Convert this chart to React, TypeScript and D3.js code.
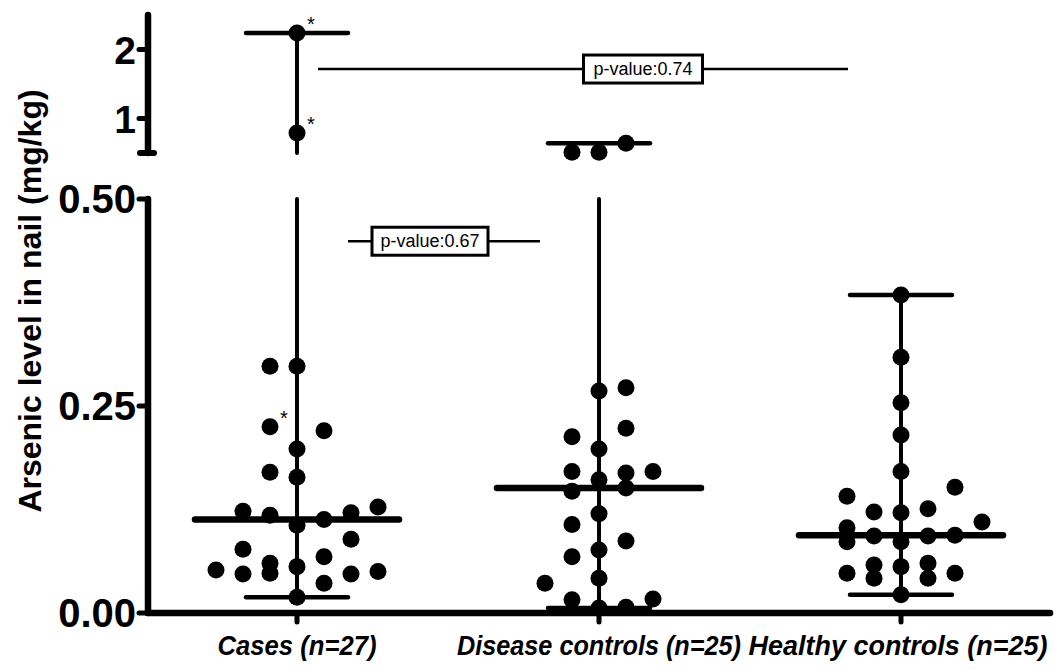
import React from "react";
import * as d3 from "d3";

const categories = ["Cases (n=27)", "Disease controls (n=25)", "Healthy controls (n=25)"];

const casesValues = [2.24, 0.79, 0.298, 0.298, 0.225, 0.22, 0.198, 0.17, 0.164, 0.123, 0.118, 0.106, 0.113, 0.121, 0.128, 0.077, 0.089, 0.068, 0.052, 0.047, 0.06, 0.048, 0.056, 0.036, 0.047, 0.05, 0.019];
const casesSlots = [0, 0, -1, 0, -1, 1, 0, -1, 0, -2, -1, 0, 1, 2, 3, -2, 2, 1, -3, -2, -1, -1, 0, 1, 2, 3, 0];

const diseaseValues = [0.64, 0.51, 0.51, 0.268, 0.272, 0.223, 0.213, 0.198, 0.171, 0.161, 0.169, 0.171, 0.147, 0.151, 0.12, 0.107, 0.087, 0.076, 0.068, 0.042, 0.036, 0.016, 0.017, 0.006, 0.007];
const diseaseSlots = [1, -1, 0, 0, 1, 1, -1, 0, -1, 0, 1, 2, -1, 1, 0, -1, 1, 0, -1, 0, -2, -1, 2, 0, 1];

const healthyValues = [0.384, 0.309, 0.254, 0.215, 0.171, 0.152, 0.141, 0.122, 0.121, 0.126, 0.11, 0.103, 0.086, 0.093, 0.086, 0.093, 0.094, 0.048, 0.058, 0.042, 0.056, 0.06, 0.042, 0.048, 0.022];
const healthySlots = [0, 0, 0, 0, 0, 2, -2, -1, 0, 1, 3, -2, -2, -1, 0, 1, 2, -2, -1, -1, 0, 1, 1, 2, 0];

const lowerTicks = [0, 0.25, 0.5];
const lowerTickLabels = ["0.00", "0.25", "0.50"];
const upperTicks = [1, 2];
const upperTickLabels = ["1", "2"];

// points flagged with an asterisk: [group index, value]
const starred: [number, number][] = [[0, 2.24], [0, 0.79], [0, 0.225]];

const pValueLabels = ["p-value:0.67", "p-value:0.74"];
const pValueLevels = [0.449, 1.717];

const yTitle = "Arsenic level in nail (mg/kg)";

const groups = [
  { values: casesValues, slots: casesSlots },
  { values: diseaseValues, slots: diseaseSlots },
  { values: healthyValues, slots: healthySlots },
];

export default function App() {
  const W = 1054, H = 670;
  const axisX = 148;
  const x = d3.scalePoint<string>().domain(categories).range([297, 901]);
  const yLow = d3.scaleLinear().domain([0, 0.5]).range([613, 199]);
  const yUp = d3.scaleLinear().domain([0.5, 2.5]).range([153, 15]);
  const yPos = (v: number) => (v <= 0.5 ? yLow(v) : yUp(v));
  const slotW = 27;
  const r = 8.5;
  const font = "Arial, 'Liberation Sans', Helvetica, sans-serif";
  const narrow = "'Liberation Sans Narrow', 'Arial Narrow', Arial, sans-serif";
  const labelWidths = [159, 284, 299];
  const labelShift = [0, 0, -3];

  // p-value annotation extents (relative to categories)
  const pLines = [
    { x1: (x(categories[0]) as number) + 51, x2: (x(categories[1]) as number) - 59, y: yLow(pValueLevels[0]), w: 116 },
    { x1: (x(categories[0]) as number) + 21, x2: (x(categories[2]) as number) - 53, y: yUp(pValueLevels[1]), w: 119 },
  ];
  const pBoxCx = [430, 643];

  return (
    <svg width={W} height={H} style={{ position: "absolute", left: 0, top: 0, background: "#fff" }}>
      <rect width={W} height={H} fill="#fff" />
      {/* Y axis title */}
      <text
        transform={`translate(41, 301) rotate(-90)`}
        textAnchor="middle"
        fontFamily={font}
        fontWeight="bold"
        fontSize={32}
        fill="#000"
      >
        {yTitle}
      </text>

      {/* upper axis */}
      <g stroke="#000" strokeLinecap="round">
        <line x1={axisX} x2={axisX} y1={yUp(2.5)} y2={yUp(0.5)} strokeWidth={6.5} />
        <line x1={axisX - 8} x2={axisX + 6} y1={yUp(0.5)} y2={yUp(0.5)} strokeWidth={6} />
        {upperTicks.map((t) => (
          <line key={t} x1={axisX - 9} x2={axisX} y1={yUp(t)} y2={yUp(t)} strokeWidth={5} />
        ))}
      </g>
      {upperTicks.map((t, i) => (
        <text key={t} x={axisX - 12} y={yUp(t) + 14} textAnchor="end" fontFamily={font} fontWeight="bold" fontSize={39} fill="#000">
          {upperTickLabels[i]}
        </text>
      ))}

      {/* lower axis */}
      <g stroke="#000" strokeLinecap="round">
        <line x1={axisX} x2={axisX} y1={yLow(0.5)} y2={yLow(0)} strokeWidth={6.5} />
        {lowerTicks.map((t) => (
          <line key={t} x1={axisX - 9} x2={axisX} y1={yLow(t)} y2={yLow(t)} strokeWidth={5} />
        ))}
        <line x1={axisX} x2={1050} y1={yLow(0)} y2={yLow(0)} strokeWidth={6.5} />
        {categories.map((c) => (
          <line key={c} x1={x(c)} x2={x(c)} y1={yLow(0)} y2={yLow(0) + 9} strokeWidth={5} />
        ))}
      </g>
      {lowerTicks.map((t, i) => (
        <text key={t} x={axisX - 12} y={yLow(t) + 14} textAnchor="end" fontFamily={font} fontWeight="bold" fontSize={40} fill="#000">
          {lowerTickLabels[i]}
        </text>
      ))}

      {/* category labels */}
      {categories.map((c, i) => (
        <text
          key={c}
          x={(x(c) as number) + labelShift[i]}
          y={655}
          textAnchor="middle"
          fontFamily={narrow}
          fontWeight="bold"
          fontStyle="italic"
          fontSize={27}
          textLength={labelWidths[i]}
          lengthAdjust="spacingAndGlyphs"
          fill="#000"
        >
          {c}
        </text>
      ))}

      {/* groups */}
      {groups.map((g, gi) => {
        const cx = x(categories[gi]) as number;
        const mn = d3.min(g.values) as number;
        const mx = d3.max(g.values) as number;
        const med = d3.median(g.values) as number;
        return (
          <g key={gi}>
            <g stroke="#000" strokeLinecap="round">
              <line x1={cx} x2={cx} y1={yLow(mn)} y2={yLow(Math.min(mx, 0.5))} strokeWidth={4} />
              {mx > 0.5 && <line x1={cx} x2={cx} y1={yUp(0.5)} y2={yUp(mx)} strokeWidth={4} />}
              <line x1={cx - 51} x2={cx + 51} y1={yPos(mx)} y2={yPos(mx)} strokeWidth={4.5} />
              <line x1={cx - 51} x2={cx + 51} y1={yPos(mn)} y2={yPos(mn)} strokeWidth={4.5} />
              <line x1={cx - 102} x2={cx + 102} y1={yPos(med)} y2={yPos(med)} strokeWidth={6.5} />
            </g>
            {g.values.map((v, i) => (
              <circle key={i} cx={cx + g.slots[i] * slotW} cy={yPos(v)} r={r} fill="#000" />
            ))}
          </g>
        );
      })}

      {/* asterisks */}
      {starred.map(([gi, v], i) => {
        const g = groups[gi];
        const idx = g.values.indexOf(v);
        const cx = (x(categories[gi]) as number) + g.slots[idx] * slotW;
        return (
          <text key={i} x={cx + 10} y={yPos(v) - 2} fontFamily={font} fontSize={20} fill="#000">
            *
          </text>
        );
      })}

      {/* p-value annotations */}
      {pLines.map((p, i) => (
        <g key={i}>
          <line x1={p.x1} x2={p.x2} y1={p.y} y2={p.y} stroke="#000" strokeWidth={2.5} />
          <rect x={pBoxCx[i] - p.w / 2} y={p.y - 14} width={p.w} height={28} fill="#fff" stroke="#000" strokeWidth={3} />
          <text x={pBoxCx[i]} y={p.y + 6} textAnchor="middle" fontFamily={font} fontSize={18} fill="#000">
            {pValueLabels[i]}
          </text>
        </g>
      ))}
    </svg>
  );
}
